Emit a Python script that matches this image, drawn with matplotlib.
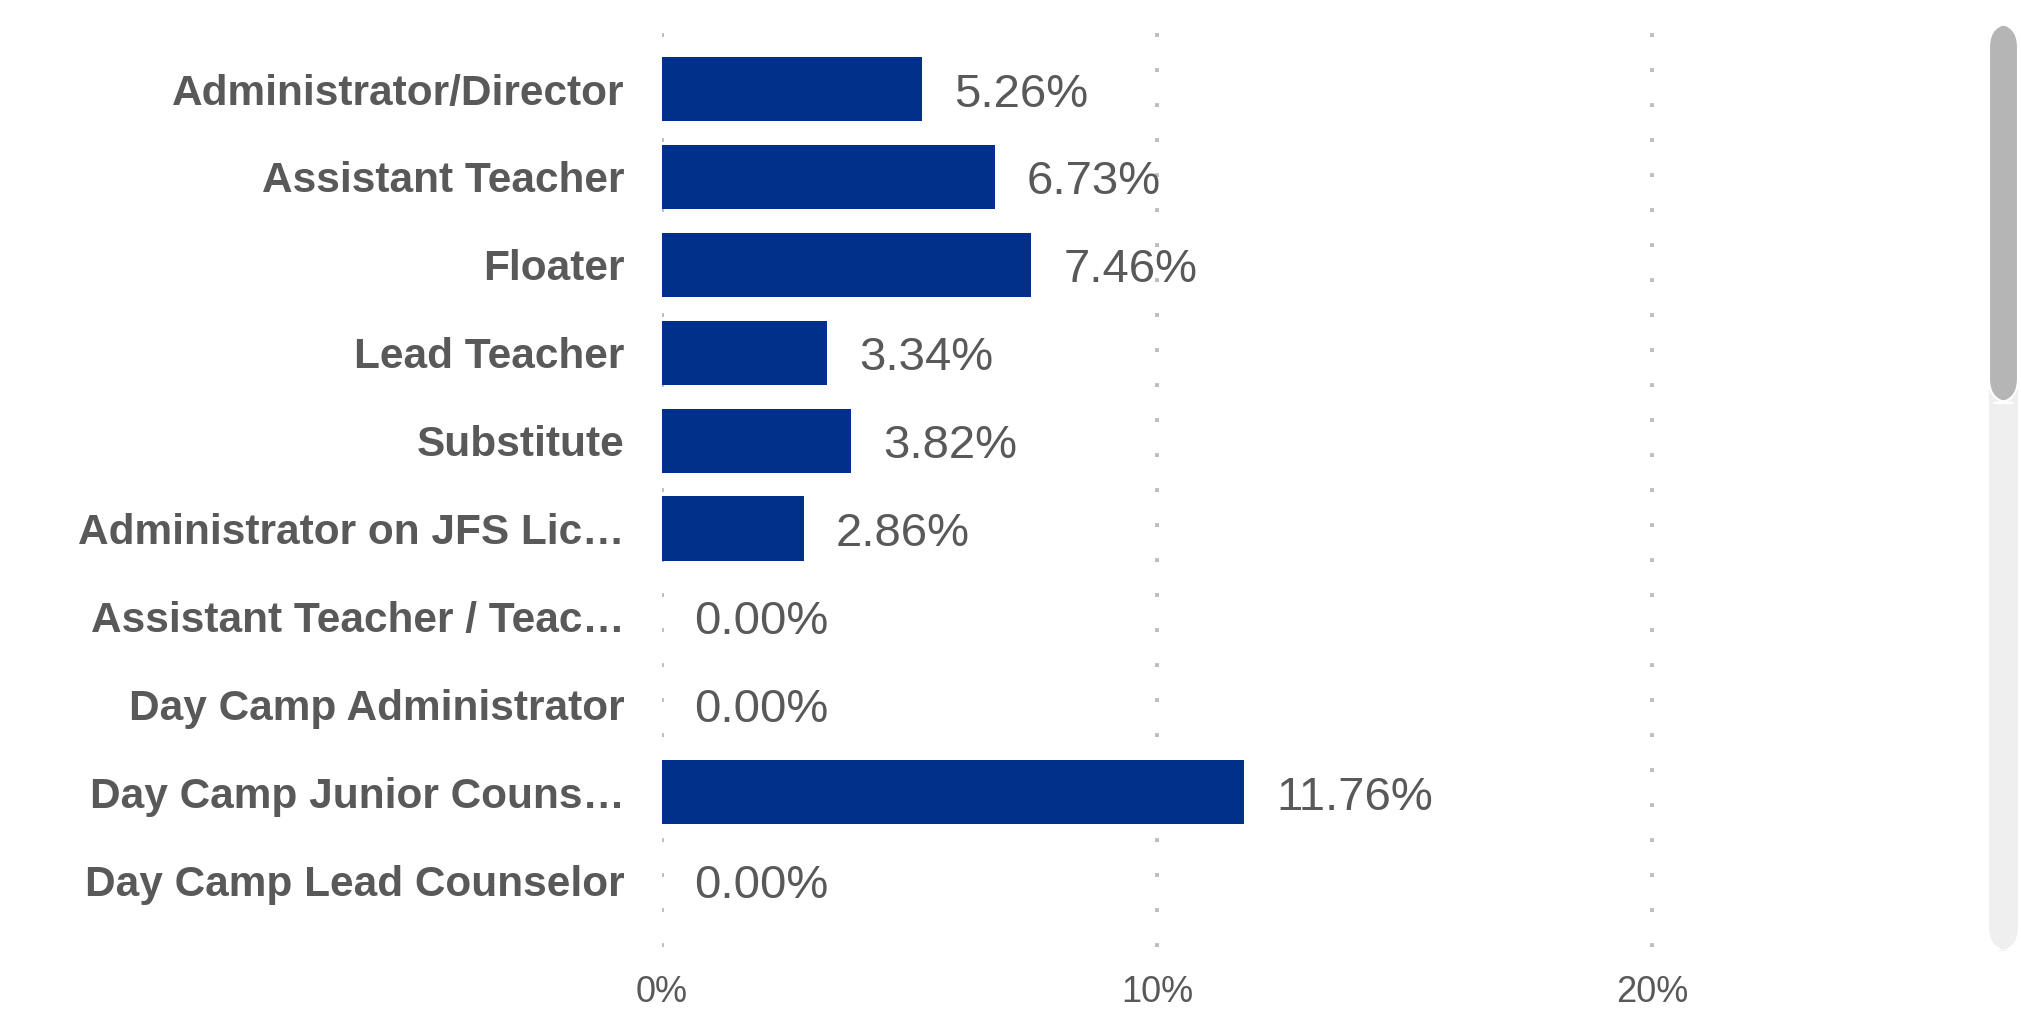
import matplotlib
matplotlib.use("Agg")
import matplotlib.pyplot as plt
from matplotlib.patches import FancyBboxPatch

categories = [
    "Administrator/Director",
    "Assistant Teacher",
    "Floater",
    "Lead Teacher",
    "Substitute",
    "Administrator on JFS Lic\u2026",
    "Assistant Teacher / Teac\u2026",
    "Day Camp Administrator",
    "Day Camp Junior Couns\u2026",
    "Day Camp Lead Counselor",
]
values = [5.26, 6.73, 7.46, 3.34, 3.82, 2.86, 0.00, 0.00, 11.76, 0.00]
xticks = [0, 10, 20]
xtick_labels = ["0%", "10%", "20%"]

bar_color = "#00308a"
text_color = "#595959"
plt.rcParams["font.family"] = ["Liberation Sans", "DejaVu Sans"]

W, H = 2021, 1033
fig = plt.figure(figsize=(W / 100, H / 100), dpi=100)
ax = fig.add_axes([662 / W, 1 - 947 / H, (1949 - 662) / W, (947 - 28) / H])

y = list(range(len(categories)))
ax.barh(y, values, height=0.73, color=bar_color, zorder=2)

for yi, v in zip(y, values):
    ax.annotate(f"{v:.2f}%", (v, yi), xytext=(23, -4), textcoords="offset points",
                va="center", ha="left", fontsize=34, color=text_color)

ax.set_xlim(0, 26)
ax.set_ylim(9.76, -0.694)
ax.set_xticks(xticks)
ax.set_xticklabels(xtick_labels)
ax.set_yticks(y)
ax.set_yticklabels(categories, fontweight="bold")
ax.tick_params(axis="x", length=0, pad=20, labelsize=26, labelcolor=text_color)
ax.tick_params(axis="y", length=0, pad=27, labelsize=30.5, labelcolor=text_color)

ax.grid(axis="x", color="#bdbdbd", linewidth=2.8, linestyle=(0, (1, 8)), zorder=1)
ax.set_axisbelow(True)
for s in ax.spines.values():
    s.set_visible(False)

# scrollbar on the right
track = FancyBboxPatch((1989 / W, 1 - 951 / H), 29 / W, (951 - 23) / H,
                       boxstyle="round,pad=0,rounding_size=0.012",
                       transform=fig.transFigure, facecolor="#efefef",
                       edgecolor="none", mutation_aspect=W / H)
thumb = FancyBboxPatch((1989 / W, 1 - 403 / H), 29 / W, (403 - 23) / H,
                       boxstyle="round,pad=0,rounding_size=0.012",
                       transform=fig.transFigure, facecolor="#b5b5b5",
                       edgecolor="white", linewidth=1.5, mutation_aspect=W / H)
fig.patches.extend([track, thumb])

fig.savefig("out.png", dpi=100)
